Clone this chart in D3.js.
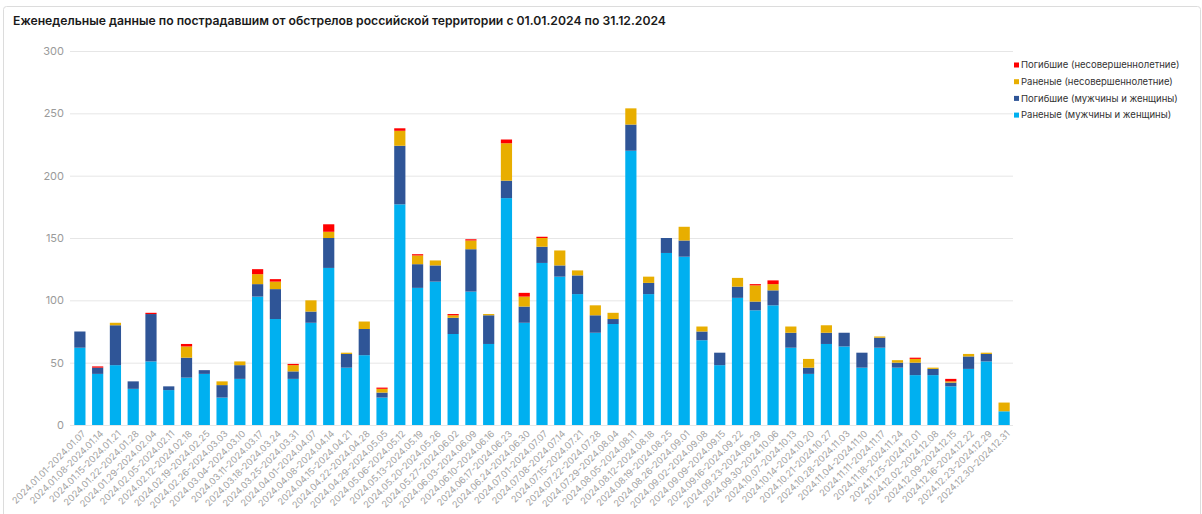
<!DOCTYPE html>
<html>
<head>
<meta charset="utf-8">
<script src="https://cdn.jsdelivr.net/npm/d3@7"></script>
<style>
  html, body { margin: 0; padding: 0; background: #fff; }
  svg { display: block; font-family: Inter, "Noto Sans", sans-serif; }
</style>
</head>
<body>
<svg id="chart" width="1202" height="514"></svg>
<script>
const weeks = [
  "2024.01.01-2024.01.07","2024.01.08-2024.01.14","2024.01.15-2024.01.21","2024.01.22-2024.01.28",
  "2024.01.29-2024.02.04","2024.02.05-2024.02.11","2024.02.12-2024.02.18","2024.02.19-2024.02.25",
  "2024.02.26-2024.03.03","2024.03.04-2024.03.10","2024.03.11-2024.03.17","2024.03.18-2024.03.24",
  "2024.03.25-2024.03.31","2024.04.01-2024.04.07","2024.04.08-2024.04.14","2024.04.15-2024.04.21",
  "2024.04.22-2024.04.28","2024.04.29-2024.05.05","2024.05.06-2024.05.12","2024.05.13-2024.05.19",
  "2024.05.20-2024.05.26","2024.05.27-2024.06.02","2024.06.03-2024.06.09","2024.06.10-2024.06.16",
  "2024.06.17-2024.06.23","2024.06.24-2024.06.30","2024.07.01-2024.07.07","2024.07.08-2024.07.14",
  "2024.07.15-2024.07.21","2024.07.22-2024.07.28","2024.07.29-2024.08.04","2024.08.05-2024.08.11",
  "2024.08.12-2024.08.18","2024.08.19-2024.08.25","2024.08.26-2024.09.01","2024.09.02-2024.09.08",
  "2024.09.09-2024.09.15","2024.09.16-2024.09.22","2024.09.23-2024.09.29","2024.09.30-2024.10.06",
  "2024.10.07-2024.10.13","2024.10.14-2024.10.20","2024.10.21-2024.10.27","2024.10.28-2024.11.03",
  "2024.11.04-2024.11.10","2024.11.11-2024.11.17","2024.11.18-2024.11.24","2024.11.25-2024.12.01",
  "2024.12.02-2024.12.08","2024.12.09-2024.12.15","2024.12.16-2024.12.22","2024.12.23-2024.12.29",
  "2024.12.30-2024.12.31"
];

const woundedAdults = [62,41,48,29,51,28,38,41,22,37,103,85,37,82,126,46,56,22,177,110,115,73,107,65,182,82,130,119,105,74,81,220,105,138,135,68,48,102,92,96,62,41,65,63,46,62,46,40,40,31,45,51,11];
const killedAdults  = [13,5,32,6,38,3,16,3,10,11,10,24,6,9,24,11,21,4,47,19,13,13,34,23,14,13,13,9,15,14,4,21,9,12,13,7,10,9,7,12,12,5,9,11,12,8,4,10,5,3,10,6,0];
const woundedMinors = [0,0,2,0,0,0,9,0,3,3,8,6,5,9,5,1,6,3,12,7,4,2,7,1,30,8,7,12,4,8,5,13,5,0,11,4,0,7,13,5,5,7,6,0,0,1,2,3,1,1,2,1,7];
const killedMinors  = [0,1,0,0,1,0,2,0,0,0,4,2,1,0,6,0,0,1,2,1,0,1,1,0,3,3,1,0,0,0,0,0,0,0,0,0,0,0,1,3,0,0,0,0,0,0,0,1,0,2,0,0,0];

const seriesNames = [
  "Раненые (мужчины и женщины)",
  "Погибшие (мужчины и женщины)",
  "Раненые (несовершеннолетние)",
  "Погибшие (несовершеннолетние)"
];
const seriesColors = ["#00b0f0", "#2f5597", "#e8ae00", "#ff0000"];
const yTicks = [0, 50, 100, 150, 200, 250, 300];
const title = "Еженедельные данные по пострадавшим от обстрелов российской территории с 01.01.2024 по 31.12.2024";

const keys = ["wa", "ka", "wm", "km"];
const rows = weeks.map((w, i) => ({
  week: w, wa: woundedAdults[i], ka: killedAdults[i], wm: woundedMinors[i], km: killedMinors[i]
}));

const svg = d3.select("#chart");

// card border
svg.append("rect")
  .attr("x", 3.5).attr("y", 6.5).attr("width", 1197).attr("height", 520)
  .attr("rx", 3).attr("fill", "#fff").attr("stroke", "#dcdcdc");

svg.append("text")
  .attr("x", 13).attr("y", 24.5)
  .attr("font-size", 12.2).attr("font-weight", 600).attr("fill", "#1a1a1a")
  .text(title);

const x = d3.scaleBand().domain(weeks).range([71, 1013]).paddingInner(0.37).paddingOuter(0.185);
const y = d3.scaleLinear().domain([0, 300]).range([425, 51]);

// grid
const grid = svg.append("g");
grid.selectAll("line").data(yTicks).join("line")
  .attr("x1", 70).attr("x2", 1013)
  .attr("y1", d => y(d) + 0.5).attr("y2", d => y(d) + 0.5)
  .attr("stroke", "#e6e6e6");

// y axis labels
const yAxis = d3.axisLeft(y).tickValues(yTicks).tickSize(0).tickPadding(0);
const yg = svg.append("g").attr("transform", "translate(64,0)").call(yAxis);
yg.select(".domain").remove();
yg.selectAll("text").attr("font-size", 11).attr("fill", "#9a9a9a")
  .attr("font-family", "Inter, 'Noto Sans', sans-serif");

// stacked bars
const stack = d3.stack().keys(keys)(rows);
svg.append("g").selectAll("g").data(stack).join("g")
  .attr("fill", (d, i) => seriesColors[i])
  .selectAll("rect").data(d => d).join("rect")
  .attr("x", d => x(d.data.week))
  .attr("width", x.bandwidth())
  .attr("y", d => y(d[1]))
  .attr("height", d => Math.max(0, y(d[0]) - y(d[1])));

// x axis labels
const xAxis = d3.axisBottom(x).tickSize(0).tickPadding(0);
const xg = svg.append("g").attr("transform", "translate(0,429)").call(xAxis);
xg.select(".domain").remove();
xg.selectAll("text")
  .attr("font-size", 9.3).attr("fill", "#a3a3a3")
  .attr("font-family", "Inter, 'Noto Sans', sans-serif")
  .attr("text-anchor", "end")
  .attr("dy", "0.35em")
  .attr("transform", "translate(4,3) rotate(-45)");

// legend
const legendOrder = [3, 2, 1, 0];
const lg = svg.append("g");
legendOrder.forEach((si, r) => {
  const yy = 65 + r * 16.7;
  lg.append("rect").attr("x", 1014).attr("y", yy - 2.5).attr("width", 5).attr("height", 5)
    .attr("fill", seriesColors[si]);
  lg.append("text").attr("x", 1021).attr("y", yy).attr("dy", "0.35em")
    .attr("font-size", 9.5).attr("fill", "#333")
    .text(seriesNames[si]);
});
</script>
</body>
</html>
